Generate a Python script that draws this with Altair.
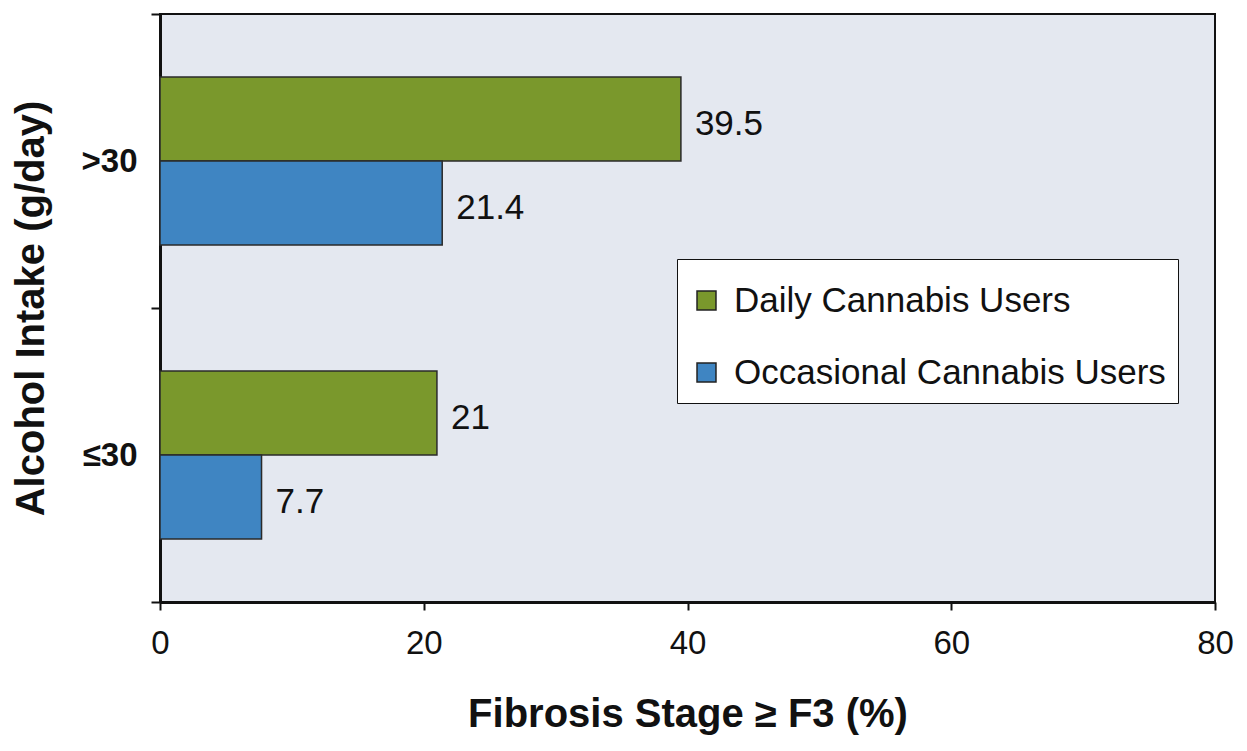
import altair as alt
import pandas as pd

cats = [">30", "≤30"]
series = ["Daily Cannabis Users", "Occasional Cannabis Users"]
daily = [39.5, 21]
occasional = [21.4, 7.7]
daily_lbl = ["39.5", "21"]
occ_lbl = ["21.4", "7.7"]
colors = ["#7a982c", "#3f85c2"]

rows = []
for i, c in enumerate(cats):
    rows.append({"intake": c, "group": series[0], "value": daily[i], "label": daily_lbl[i]})
    rows.append({"intake": c, "group": series[1], "value": occasional[i], "label": occ_lbl[i]})
df = pd.DataFrame(rows)

FONT = "Liberation Sans"

y = alt.Y("intake:N", sort=cats,
          scale=alt.Scale(paddingInner=0, paddingOuter=0),
          axis=alt.Axis(title="Alcohol Intake (g/day)", tickBand="extent",
                        labelFontSize=33, labelFontWeight="bold", labelColor="#111",
                        labelFont=FONT, labelPadding=14,
                        titleFontSize=40, titleFontWeight="bold", titleFont=FONT,
                        titleColor="#111", titlePadding=30,
                        tickSize=9, tickWidth=2, tickColor="#111",
                        domainWidth=3, domainColor="#111", labelAngle=0))
yoff = alt.YOffset("group:N", sort=series,
                   scale=alt.Scale(paddingInner=0, paddingOuter=0.75))
x = alt.X("value:Q", scale=alt.Scale(domain=[0, 80], nice=False),
          axis=alt.Axis(title="Fibrosis Stage ≥ F3 (%)", values=[0, 20, 40, 60, 80],
                        grid=False, labelFontSize=33, labelColor="#111", labelFont=FONT,
                        labelPadding=17, labelFlush=False,
                        titleFontSize=40, titleFontWeight="bold", titleFont=FONT,
                        titleColor="#111", titlePadding=34,
                        tickSize=8, tickWidth=2, tickColor="#111",
                        domainWidth=3, domainColor="#111"))

bars = alt.Chart(df).mark_bar(stroke="#2a2a2a", strokeWidth=1.5).encode(
    x=x, y=y, yOffset=yoff,
    color=alt.Color("group:N", sort=series,
                    scale=alt.Scale(domain=series, range=colors),
                    legend=alt.Legend(title=" ", titleFontSize=8, titlePadding=4,
                                      orient="none", legendX=517, legendY=245,
                                      fillColor="white", strokeColor="#111",
                                      padding=12, symbolType="square", symbolSize=360,
                                      symbolStrokeColor="#222", symbolStrokeWidth=1.5,
                                      labelFontSize=35, labelFont=FONT, labelColor="#111",
                                      labelOffset=10, rowPadding=36, labelLimit=700))
)

text = alt.Chart(df).mark_text(align="left", baseline="middle", dx=14, dy=5, fontSize=35,
                               font=FONT, color="#111").encode(
    x="value:Q", y=alt.Y("intake:N", sort=cats), yOffset=yoff, text="label:N")

chart = alt.layer(bars, text).properties(
    width=1055, height=588,
    autosize=alt.AutoSizeParams(type="none"),
    padding={"left": 152, "top": 6, "right": 20, "bottom": 140},
    background="white",
).configure_view(fill="#e4e8f0", stroke="#111", strokeWidth=2)

chart.save("out.html", embed_options={"renderer": "svg", "actions": False})
